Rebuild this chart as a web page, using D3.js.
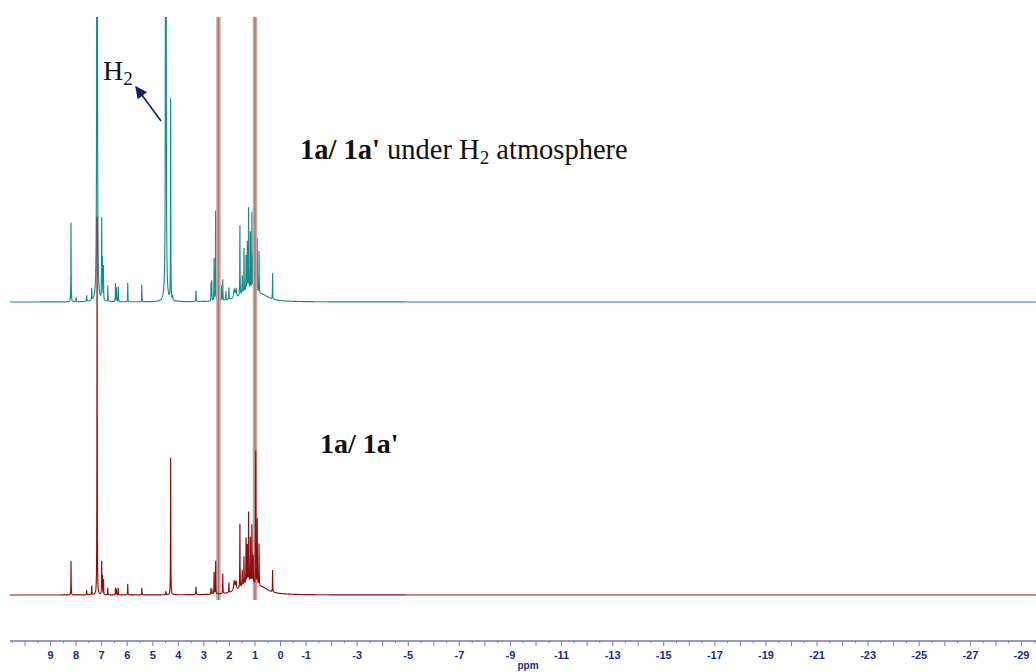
<!DOCTYPE html>
<html>
<head>
<meta charset="utf-8">
<script src="https://cdn.jsdelivr.net/npm/d3@7/dist/d3.min.js"></script>
<style>
  html, body { margin: 0; padding: 0; background: #ffffff; }
  svg { display: block; }
</style>
</head>
<body>
<svg id="chart" width="1036" height="672"></svg>
<script>
// 1H NMR stacked spectra (ppm). Peak lists: position, height, half-width.

// Upper trace: 1a/1a' under H2 atmosphere
const tealPpm    = [8.18, 7.98, 7.57, 7.37, 7.16, 6.98, 6.95, 6.91, 6.74, 6.44, 6.40, 6.33, 5.96, 5.41, 4.47, 4.28, 4.20, 3.29, 2.70, 2.67, 2.58, 2.52, 2.30, 2.24, 2.12, 2.00, 1.79, 1.72, 1.57, 1.48, 1.41, 1.33, 1.28, 1.23, 1.16, 1.10, 1.05, 0.95, 0.89, 0.82, 0.29, 1.25, 0.70];
const tealHeight = [79, 4, 6, 12, 2500, 80, 40, 34, 16, 18, 14, 15, 19, 17, 2500, 201, 4, 11, 18, 20, 42, 90, 15, 21, 8, 12, 9, 8, 70, 18, 44, 35, 48, 82, 58, 78, 35, 64, 54, 42, 26, 10, 5];
const tealWidth  = [0.006, 0.01, 0.01, 0.008, 0.006, 0.006, 0.006, 0.006, 0.006, 0.006, 0.006, 0.006, 0.006, 0.006, 0.006, 0.006, 0.01, 0.008, 0.006, 0.006, 0.006, 0.006, 0.006, 0.006, 0.01, 0.008, 0.03, 0.02, 0.006, 0.008, 0.006, 0.006, 0.006, 0.006, 0.006, 0.006, 0.008, 0.006, 0.006, 0.006, 0.006, 0.35, 0.3];

// Lower trace: 1a/1a'
const redPpm    = [8.18, 7.57, 7.37, 7.16, 6.98, 6.95, 6.91, 6.74, 6.44, 6.40, 6.33, 5.96, 5.41, 4.47, 4.28, 3.29, 2.70, 2.67, 2.58, 2.52, 2.24, 2.00, 1.79, 1.72, 1.57, 1.48, 1.41, 1.33, 1.28, 1.23, 1.16, 1.10, 1.05, 0.95, 0.89, 0.82, 0.29, 1.25, 0.70];
const redHeight = [34, 4, 9, 378, 33, 18, 15, 7, 7, 6, 7, 11, 7, 3, 137, 8, 6, 5, 22, 33, 20, 10, 10, 8, 64, 16, 28, 45, 37, 70, 45, 58, 28, 134, 66, 42, 22, 11, 5];
const redWidth  = [0.006, 0.01, 0.008, 0.006, 0.006, 0.006, 0.006, 0.006, 0.006, 0.006, 0.006, 0.006, 0.006, 0.01, 0.006, 0.008, 0.006, 0.006, 0.006, 0.006, 0.006, 0.008, 0.03, 0.02, 0.006, 0.008, 0.006, 0.006, 0.006, 0.006, 0.006, 0.006, 0.008, 0.006, 0.006, 0.006, 0.006, 0.35, 0.3];

// Off-scale solvent signals common to both spectra
const solventPpm = [2.41, 0.98];

// Axis ticks and labels
const majorTicks = d3.range(10, -30, -1);
const minorTicks = d3.range(10.5, -29.6, -1);
const tickLabels = [9, 8, 7, 6, 5, 4, 3, 2, 1, 0, -1, -3, -5, -7, -9, -11, -13, -15, -17, -19, -21, -23, -25, -27, -29];

const W = 1036, H = 672;
const svg = d3.select("#chart");
const defs = svg.append("defs");

const x = d3.scaleLinear().domain([10.96, -29.59]).range([0, W]);
const yTeal = d3.scaleLinear().domain([0, 285]).range([302, 17]);
const yRed  = d3.scaleLinear().domain([0, 578]).range([595, 17]);

defs.append("clipPath").attr("id", "plotClip")
  .append("rect").attr("x", 0).attr("y", 17).attr("width", W).attr("height", H - 17);

// Sample grid, including every peak centre so narrow lines keep their apex
const startPpm = x.invert(10), endPpm = x.invert(W);
function grid(centres) {
  const pts = d3.range(startPpm, endPpm, -0.004).concat(centres.filter(c => c < startPpm && c > endPpm));
  return pts.sort((a, b) => b - a);
}
function spectrum(ppm, height, width) {
  return grid(ppm).map(p => {
    let s = 0;
    for (let i = 0; i < ppm.length; i++) {
      const d = p - ppm[i], w = width[i];
      s += height[i] * w * w / (d * d + w * w);
    }
    return [p, s];
  });
}

const plot = svg.append("g").attr("clip-path", "url(#plotClip)");

const tealLine = d3.line().x(d => x(d[0])).y(d => yTeal(d[1]));
const redLine  = d3.line().x(d => x(d[0])).y(d => yRed(d[1]));

plot.append("path")
  .datum(spectrum(tealPpm, tealHeight, tealWidth))
  .attr("fill", "none").attr("stroke", "#178c8a").attr("stroke-width", 1.15)
  .attr("d", tealLine);

// Saturated solvent lines crossing both spectra
const sol = plot.selectAll("g.solvent").data(solventPpm).join("g").attr("class", "solvent");
sol.append("line")
  .attr("x1", d => x(d)).attr("x2", d => x(d))
  .attr("y1", 17).attr("y2", yRed(0) + 5)
  .attr("stroke", "#d4a2a2").attr("stroke-width", 4.5);
sol.append("line")
  .attr("x1", d => x(d)).attr("x2", d => x(d))
  .attr("y1", 17).attr("y2", yRed(0) + 5)
  .attr("stroke", "#9c7676").attr("stroke-width", 1.2);

plot.append("path")
  .datum(spectrum(redPpm, redHeight, redWidth))
  .attr("fill", "none").attr("stroke", "#8c0d0d").attr("stroke-width", 1.15)
  .attr("d", redLine);

// ppm axis
const axisY = 641;
const axisColor = "#7878b8", labelColor = "#1f2b8a";
const gMinor = svg.append("g").attr("transform", `translate(0,${axisY})`)
  .call(d3.axisBottom(x).tickValues(minorTicks).tickSize(2).tickFormat(""));
const gMajor = svg.append("g").attr("transform", `translate(0,${axisY})`)
  .call(d3.axisBottom(x).tickValues(majorTicks).tickSize(5)
    .tickFormat(d => tickLabels.includes(d) ? String(d) : ""));
[gMinor, gMajor].forEach(g => {
  g.select(".domain").attr("stroke", axisColor).attr("stroke-width", 1.2)
    .attr("d", `M${x(startPpm)},0H${W}`);
  g.selectAll(".tick line").attr("stroke", axisColor);
});
gMajor.selectAll(".tick text")
  .attr("y", 10).attr("dy", "0.71em")
  .attr("fill", labelColor)
  .style("font-family", "Arial, 'Liberation Sans', sans-serif")
  .style("font-size", "11px").style("font-weight", "bold");

svg.append("text").attr("x", 528).attr("y", 669).attr("text-anchor", "middle")
  .attr("fill", labelColor)
  .style("font-family", "Arial, 'Liberation Sans', sans-serif")
  .style("font-size", "10px").style("font-weight", "bold").text("ppm");

// Annotations
const serif = "'Times New Roman', 'Liberation Serif', serif";
const h2 = svg.append("text").attr("x", 103).attr("y", 80)
  .style("font-family", serif).style("font-size", "28px").attr("fill", "#111");
h2.append("tspan").text("H");
h2.append("tspan").attr("dy", 5).style("font-size", "19px").text("2");

defs.append("marker").attr("id", "arrowHead")
  .attr("viewBox", "0 0 10 10").attr("refX", 9).attr("refY", 5)
  .attr("markerUnits", "userSpaceOnUse")
  .attr("markerWidth", 14).attr("markerHeight", 12).attr("orient", "auto")
  .append("path").attr("d", "M0,0L10,5L0,10z").attr("fill", "#0f2262");
svg.append("line").attr("x1", 161).attr("y1", 121).attr("x2", 136).attr("y2", 87)
  .attr("stroke", "#0f2262").attr("stroke-width", 1.6).attr("marker-end", "url(#arrowHead)");

const t1 = svg.append("text").attr("x", 300).attr("y", 159)
  .style("font-family", serif).style("font-size", "28.5px").attr("fill", "#111");
t1.append("tspan").style("font-weight", "bold").text("1a/ 1a'");
t1.append("tspan").text(" under H");
t1.append("tspan").attr("dy", 5).style("font-size", "19px").text("2");
t1.append("tspan").attr("dy", -5).text(" atmosphere");

svg.append("text").attr("x", 320).attr("y", 453)
  .style("font-family", serif).style("font-size", "28px").style("font-weight", "bold")
  .attr("fill", "#111").text("1a/ 1a'");
</script>
</body>
</html>
